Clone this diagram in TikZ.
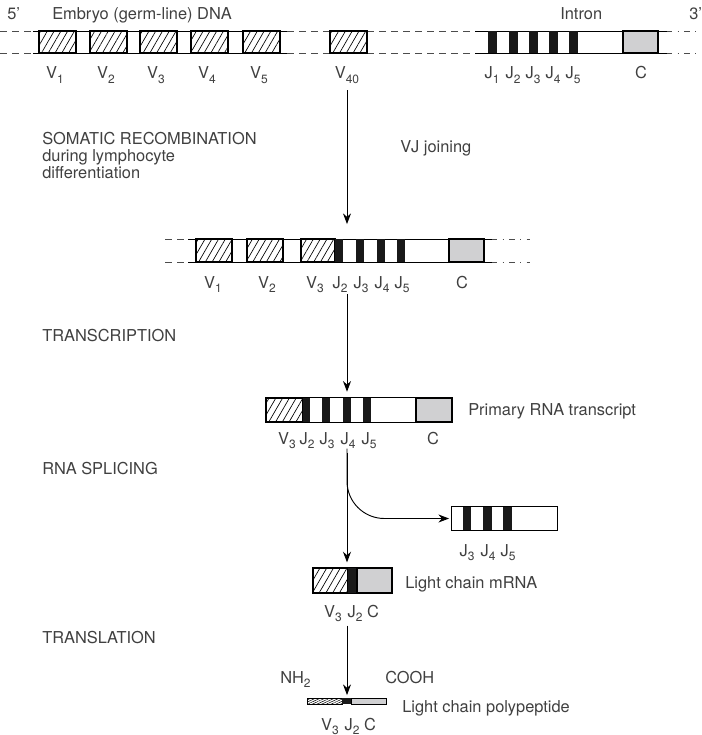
\documentclass[tikz,border=0pt]{standalone}
\usepackage{fontspec}
\setmainfont{TeX Gyre Heros}
\usetikzlibrary{arrows.meta, patterns.meta, fit}

\definecolor{inkgray}{RGB}{64,64,64}
\definecolor{cfill}{RGB}{208,208,210}

\newcommand{\ix}[1]{\raisebox{-0.5ex}{\fontsize{9}{10}\selectfont #1}}

\begin{document}
\begin{tikzpicture}[
  x=0.75pt, y=-0.75pt,
  font=\fontsize{12.3}{12.75}\selectfont,
  txt/.style={text=inkgray, inner sep=0pt, anchor=base west, align=left},
  lbl/.style={text=inkgray, inner sep=0pt, anchor=base},
  row/.style={inner sep=0pt},
  vseg/.style={draw, line width=0.8pt,
               pattern={Lines[angle=60,distance=4.4pt,line width=0.5pt]}},
  pseg/.style={draw, line width=0.6pt,
               pattern={Lines[angle=25,distance=1.5pt,line width=0.4pt]}},
  jseg/.style={fill=black!90},
  cseg/.style={draw, line width=0.8pt, fill=cfill},
  strand/.style={line width=0.7pt},
  gap/.style={line width=0.6pt, black!70, dash pattern=on 5pt off 4pt},
  tailgap/.style={line width=0.6pt, black!70, dash pattern=on 4pt off 4pt on 1pt off 4pt},
  arr/.style={-{Stealth[length=8pt,width=6pt]}, line width=0.7pt}
]
\useasboundingbox (0,0) rectangle (701,735);
\coordinate (axis) at (347,0);

%% ——— Fila 1: germ-line DNA ———
\node[txt] (five) at (7,20) {5'};
\node[txt] (dnatitle) at (52,20) {Embryo (germ-line) DNA};
\node[txt] (introntxt) at (560,20) {Intron};
\node[txt] (three) at (689,20) {3'};

\foreach \y in {31,53} {
  \draw[gap] (0,\y) -- (33,\y);
  \draw[strand] (33,\y) -- (287,\y);
  \draw[gap] (287,\y) -- (330,\y);
  \draw[gap] (367,\y) -- (475,\y);
  \draw[strand] (475,\y) -- (667,\y);
  \draw[tailgap] (667,\y) -- (701,\y);
}
\foreach \a/\n in {39/1, 90/2, 140/3, 191/4, 243/5} {
  \path[vseg] (\a,31) rectangle ++(37,22);
  \node[lbl] (v\n) at (\a+16,79) {V\ix{\n}};
}
\path[vseg] (330,31) rectangle (367,53);
\node[lbl] (v40) at (347,79) {V\ix{40}};
\foreach \a/\n in {488/1, 509/2, 529/3, 549/4, 569/5} {
  \path[jseg] (\a,31) rectangle ++(9,22);
  \node[lbl] (j\n) at (\a+4,79) {J\ix{\n}};
}
\path[cseg] (623,31) rectangle (658,53);
\node[lbl] (c) at (641,79) {C};

%% ——— Fila 2: VJ-joined DNA ———
\node[txt] (somatic) at (42,178) {SOMATIC RECOMBINATION\\during lymphocyte\\differentiation};
\node[txt] (vjtxt) at (400,152) {VJ joining};

\node[row, fit={(188,239) (492,262)}] (midrow) {};
\foreach \y in {239,262} {
  \draw[gap] (165,\y) -- (188,\y);
  \draw[strand] (188,\y) -- (492,\y);
  \draw[tailgap] (492,\y) -- (530,\y);
}
\path[vseg] (196,239) rectangle (232,262);
\path[vseg] (247,239) rectangle (283,262);
\path[vseg] (301,239) rectangle (335,262);
\foreach \a in {335,356,377,397}
  \path[jseg] (\a,239) rectangle ++(8,23);
\path[cseg] (449,239) rectangle (484,262);
\foreach \x/\t/\n in {213/V/1, 267/V/2, 315/V/3, 340/J/2, 361/J/3, 382/J/4, 402/J/5}
  \node[lbl] (m\t\n) at (\x,288) {\t\ix{\n}};
\node[lbl] (mc) at (462,288) {C};

\draw[arr, shorten <=5pt, shorten >=11pt] (axis |- v40.south) -- (axis |- midrow.north);

%% ——— Fila 3: primary transcript ———
\node[txt] (transcr) at (42,341) {TRANSCRIPTION};

\node[row, fit={(266,398) (452,422)}] (rnarow) {};
\path[vseg] (266,398) rectangle (303,422);
\foreach \a/\w in {303/7, 322/8, 343/8, 363/8}
  \path[jseg] (\a,398) rectangle ++(\w,24);
\path[cseg] (416,398) rectangle (452,422);
\draw[line width=0.8pt] (rnarow.north west) rectangle (rnarow.south east);
\foreach \x/\t/\n in {287/V/3, 307/J/2, 327/J/3, 348/J/4, 369/J/5}
  \node[lbl] (r\t\n) at (\x,444) {\t\ix{\n}};
\node[lbl] (rc) at (433,444) {C};
\node[txt] (rnatxt) at (468,415) {Primary RNA transcript};

\draw[arr, shorten <=1pt, shorten >=4.5pt] (axis |- mJ2.south) -- (axis |- rnarow.north);

%% ——— Fila 4: splicing ———
\node[txt] (splice) at (42,474) {RNA SPLICING};

\node[row, fit={(452,507) (557,530)}] (intron) {};
\foreach \a/\w in {463/8, 483/9, 503/9}
  \path[jseg] (\a,507) rectangle ++(\w,23);
\draw[line width=0.8pt] (intron.north west) rectangle (intron.south east);
\foreach \x/\n in {467/3, 488/4, 508/5}
  \node[lbl] (iJ\n) at (\x,556) {J\ix{\n}};

\node[row, fit={(313,568) (392,593)}] (mrna) {};
\path[vseg] (313,568) rectangle (348,593);
\path[jseg] (348,568) rectangle (357,593);
\path[cseg] (357,568) rectangle (392,593);
\draw[line width=0.8pt] (mrna.north west) rectangle (mrna.south east);
\node[lbl] (nV3) at (333,617) {V\ix{3}};
\node[lbl] (nJ2) at (355,617) {J\ix{2}};
\node[lbl] (nc) at (373,617) {C};
\node[txt] (mrnatxt) at (405,588) {Light chain mRNA};

\draw[arr, shorten <=3pt, shorten >=4pt] (axis |- rJ4.south) -- (axis |- mrna.north);
\draw[arr, rounded corners=28pt, shorten >=2pt] (axis |- rJ4.south) |- (intron.west);

%% ——— Fila 5: translation ———
\node[txt] (transl) at (42,643) {TRANSLATION};

\node[row, fit={(307,698) (386,704)}] (pep) {};
\path[pseg] (307,698) rectangle (342,704);
\path[jseg] (342,698) rectangle (351,704);
\path[cseg, line width=0.6pt] (351,698) rectangle (386,704);
\node[txt] (nh) at (280,683) {NH\ix{2}};
\node[txt] (cooh) at (385,683) {COOH};
\node[txt] (peptxt) at (402,712) {Light chain polypeptide};
\node[lbl] (pV3) at (330,730) {V\ix{3}};
\node[lbl] (pJ2) at (352,730) {J\ix{2}};
\node[lbl] (pc) at (370,730) {C};

\draw[arr, shorten <=3pt, shorten >=2pt] (axis |- nJ2.south) -- (axis |- pep.north);

\end{tikzpicture}
\end{document}
